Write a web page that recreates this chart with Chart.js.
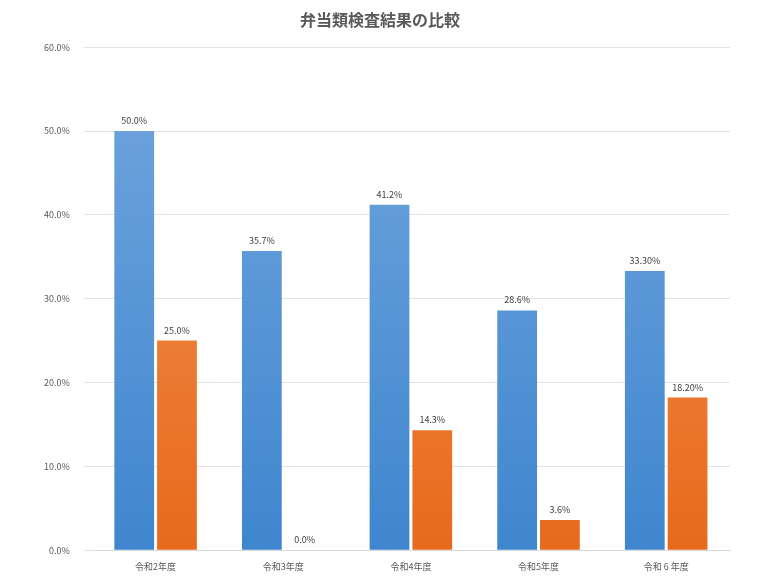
<!DOCTYPE html>
<html>
<head>
<meta charset="utf-8">
<script src="https://cdn.jsdelivr.net/npm/chart.js@4"></script>
<style>
  body { margin: 0; background: #fff; }
  #wrap { width: 780px; height: 585px; }
</style>
</head>
<body>
<div id="wrap"><canvas id="chart"></canvas></div>
<script>
const categories = ['令和2年度', '令和3年度', '令和4年度', '令和5年度', '令和 6 年度'];
const blueValues = [50.0, 35.7, 41.2, 28.6, 33.3];
const orangeValues = [25.0, 0.0, 14.3, 3.6, 18.2];
const blueLabels = ['50.0%', '35.7%', '41.2%', '28.6%', '33.30%'];
const orangeLabels = ['25.0%', '0.0%', '14.3%', '3.6%', '18.20%'];

function gradient(ctx, top, bottom) {
    const area = ctx.chart.chartArea;
    if (!area) return top;
    const g = ctx.chart.ctx.createLinearGradient(0, area.top, 0, area.bottom);
    g.addColorStop(0, top);
    g.addColorStop(1, bottom);
    return g;
}

// value labels above the bars
const valueLabels = {
    id: 'valueLabels',
    afterDatasetsDraw(chart) {
        const c = chart.ctx;
        c.save();
        c.font = '9px "Noto Sans CJK JP", sans-serif';
        c.fillStyle = '#404040';
        c.textAlign = 'center';
        c.textBaseline = 'bottom';
        const texts = [blueLabels, orangeLabels];
        chart.data.datasets.forEach((ds, i) => {
            chart.getDatasetMeta(i).data.forEach((bar, j) => {
                c.fillText(texts[i][j], bar.x, bar.y - 6);
            });
        });
        c.restore();
    }
};

new Chart(document.getElementById('chart'), {
    type: 'bar',
    data: {
        labels: categories,
        datasets: [
            {
                data: blueValues,
                backgroundColor: ctx => gradient(ctx, '#73a6de', '#3f86cf')
            },
            {
                data: orangeValues,
                backgroundColor: ctx => gradient(ctx, '#f19458', '#e86a1c')
            }
        ]
    },
    options: {
        responsive: true,
        maintainAspectRatio: false,
        animation: false,
        layout: { padding: { left: 30, right: 50, top: 0, bottom: 10 } },
        datasets: { bar: { categoryPercentage: 0.67, barPercentage: 0.93 } },
        plugins: {
            legend: { display: false },
            tooltip: { enabled: false },
            title: {
                display: true,
                text: '弁当類検査結果の比較',
                color: '#595959',
                font: { family: '"Noto Sans CJK JP", sans-serif', size: 16, weight: 'bold' },
                padding: { top: 10, bottom: 18 }
            }
        },
        scales: {
            x: {
                grid: { display: false },
                border: { color: '#d9d9d9' },
                ticks: { color: '#595959', font: { family: '"Noto Sans CJK JP", sans-serif', size: 9 } }
            },
            y: {
                min: 0,
                max: 60,
                ticks: {
                    stepSize: 10,
                    padding: 14,
                    color: '#595959',
                    font: { family: '"Noto Sans CJK JP", sans-serif', size: 9 },
                    callback: v => v.toFixed(1) + '%'
                },
                grid: { color: '#e3e3e3' },
                border: { display: false }
            }
        }
    },
    plugins: [valueLabels]
});
</script>
</body>
</html>
